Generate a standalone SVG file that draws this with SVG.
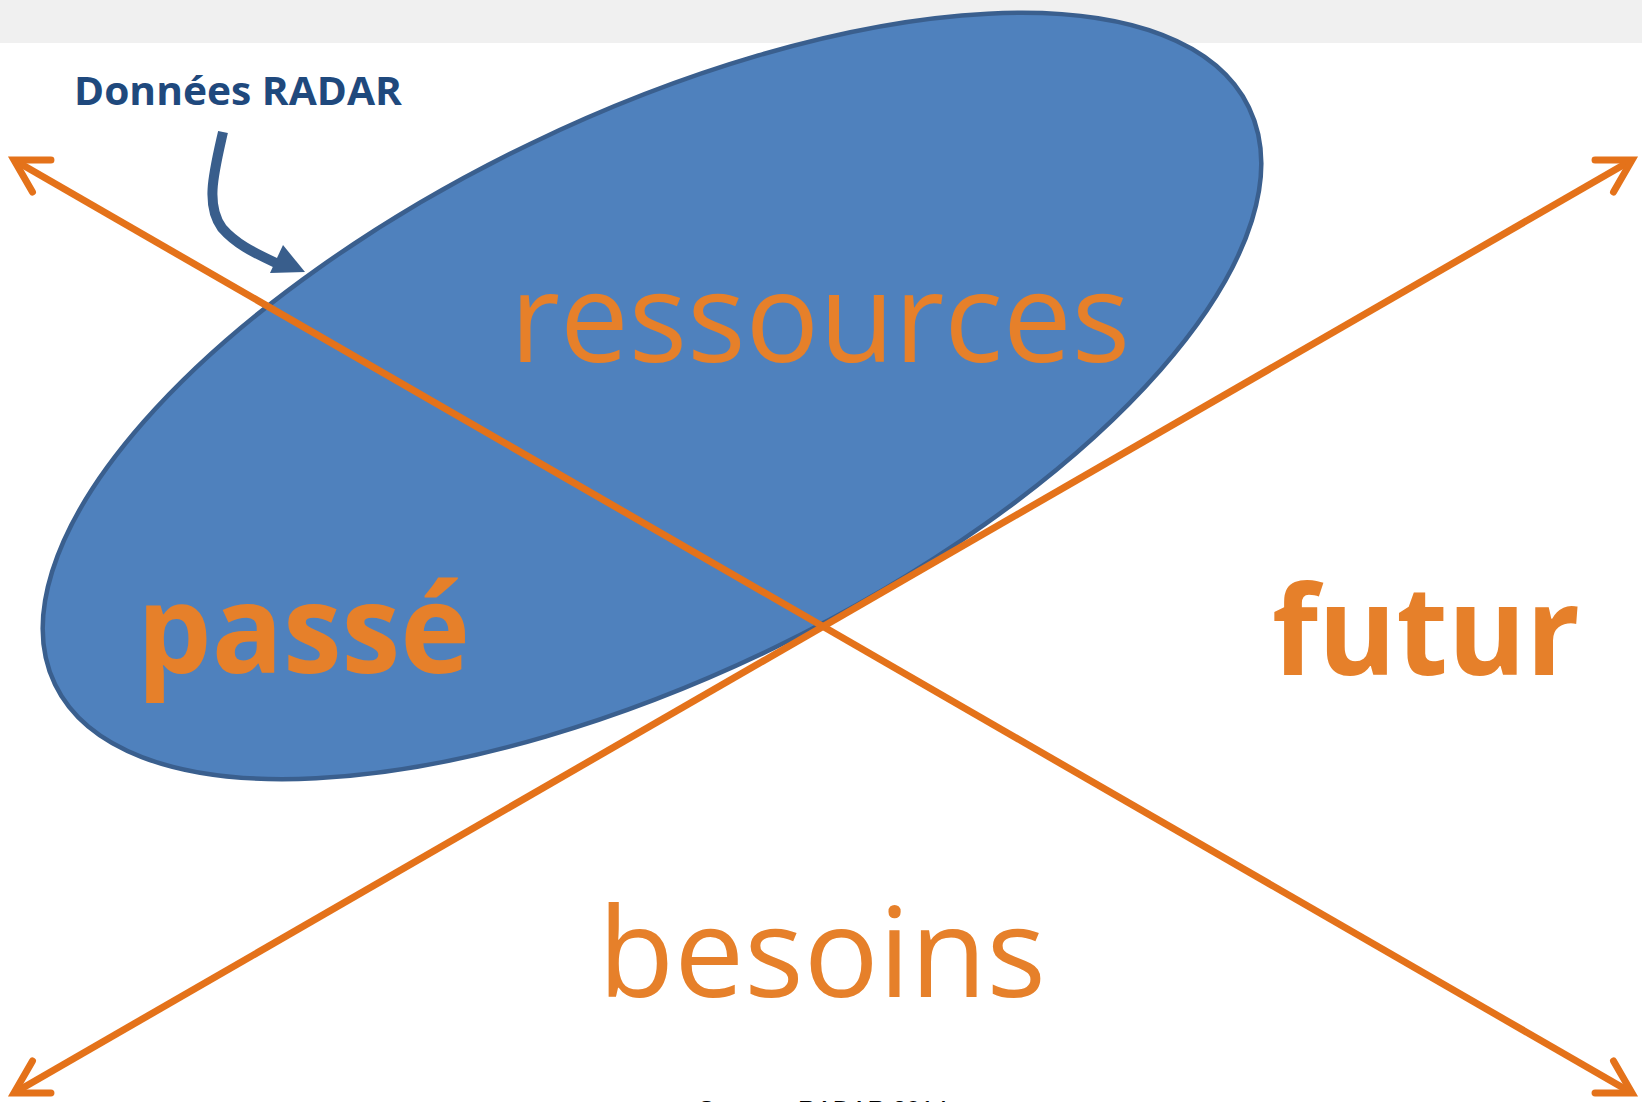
<svg xmlns="http://www.w3.org/2000/svg" width="1642" height="1102" viewBox="0 0 1642 1102">
  <defs>
    <style>
      .word { fill: #e6802a; font-family: "Open Sans", "Liberation Sans", sans-serif; }
      .axis { stroke: #e4721a; stroke-width: 7; fill: none; marker-start: url(#chev); marker-end: url(#chev); }
    </style>
    <marker id="chev" markerUnits="userSpaceOnUse" orient="auto-start-reverse" markerWidth="60" markerHeight="60" refX="0" refY="0" viewBox="-40 -30 60 60" overflow="visible">
      <path d="M -32 -18.5 L 0 0 L -32 18.5" fill="none" stroke="#e4721a" stroke-width="7" stroke-linecap="round" stroke-linejoin="miter"/>
    </marker>
  </defs>

  <rect id="background" x="0" y="0" width="1642" height="1102" fill="#ffffff"/>
  <rect id="top-band" x="0" y="0" width="1642" height="43" fill="#f0f0f0"/>

  <g id="ellipse-node">
    <ellipse cx="652" cy="396" rx="663" ry="280" transform="rotate(-25.8 652 396)" fill="#4f81bd" stroke="#3a5f8e" stroke-width="4.5"/>
  </g>

  <g id="donnees-radar">
    <text x="74" y="105" font-family="'Open Sans', 'Liberation Sans', sans-serif" font-weight="bold" font-size="39" fill="#1f497d" textLength="328" lengthAdjust="spacingAndGlyphs">Données RADAR</text>
    <path d="M223,132 C214,172 205,205 222,228 C235,243 252,252 276,263" fill="none" stroke="#395e8c" stroke-width="10"/>
    <polygon points="283,245 305,272 270,273" fill="#395e8c"/>
  </g>

  <g id="connectors">
    <line class="axis" x1="14" y1="160" x2="1632" y2="1093"/>
    <line class="axis" x1="14" y1="1093" x2="1632" y2="160"/>
  </g>

  <g id="ressources">
    <text class="word" x="510" y="362" font-size="125" textLength="620" lengthAdjust="spacingAndGlyphs">ressources</text>
  </g>
  <g id="passe">
    <text class="word" x="137" y="673" font-size="124" font-weight="bold" textLength="333" lengthAdjust="spacingAndGlyphs">passé</text>
  </g>
  <g id="futur">
    <text class="word" x="1272" y="675" font-size="124" font-weight="bold" textLength="308" lengthAdjust="spacingAndGlyphs">futur</text>
  </g>
  <g id="besoins">
    <text class="word" x="598" y="997" font-size="125" textLength="448" lengthAdjust="spacingAndGlyphs">besoins</text>
  </g>

  <g id="source">
    <text x="698" y="1120" font-family="'Liberation Sans', sans-serif" font-size="28" fill="#000000" textLength="250" lengthAdjust="spacingAndGlyphs">Source : RADAR 2014</text>
  </g>
</svg>
